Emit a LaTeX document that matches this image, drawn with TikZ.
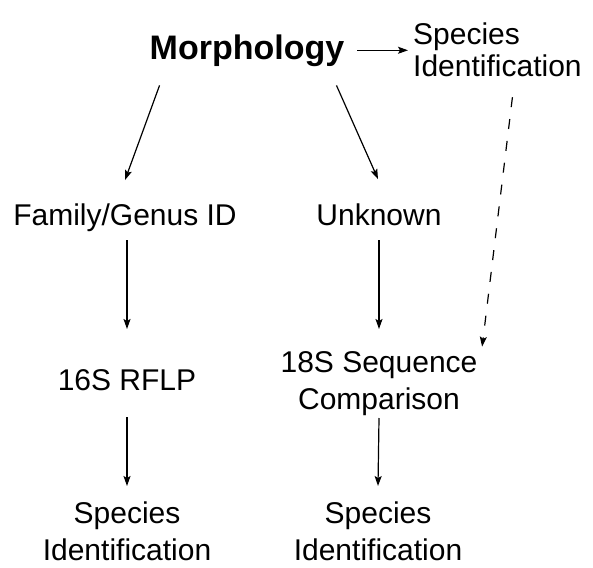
\documentclass[tikz,border=0pt]{standalone}
\usepackage{fontspec}
\setmainfont{Liberation Sans}
\usetikzlibrary{arrows.meta,calc}
\tikzset{
  lbl/.style={inner sep=0pt, font=\fontsize{30}{37}\selectfont, align=center},
  arr/.style={line width=1.2pt, -{Stealth[length=10pt,width=7pt,inset=2pt]}},
  dasharr/.style={arr, dash pattern=on 10pt off 12pt}
}
\begin{document}
\begin{tikzpicture}[x=1pt,y=-1pt]
\useasboundingbox (0,0) rectangle (593,567);
\node[lbl, font=\fontsize{34}{40}\bfseries\selectfont, anchor=base] (morph) at (247,60) {Morphology};
\node[lbl, font=\fontsize{30}{32}\selectfont, align=left, anchor=west] (topsp) at (413,50) {Species\\Identification};
\node[lbl, anchor=base] (fam) at (125,225) {Family/Genus ID};
\node[lbl, anchor=base] (unk) at (379,225) {Unknown};
\node[lbl, anchor=base] (rflp) at (127,390) {16S RFLP};
\node[lbl] (seq) at (379,384) {18S Sequence\\Comparison};
\node[lbl] (sp1) at (127,531) {Species\\Identification};
\node[lbl] (sp2) at (378,531) {Species\\Identification};

\coordinate (a1) at ($(morph.east)+(13,-1)$);
\draw[arr, shorten >=5pt] (a1) -- (a1 -| topsp.west);
\draw[arr] ($(morph.south west)+(10,18)$) -- ($(fam.north)+(0,-23)$);
\draw[arr] ($(morph.south east)+(-8,18)$) -- ($(unk.north)+(-1,-24)$);
\draw[arr] (rflp.north |- 0,240) -- (rflp.north |- 0,329);
\draw[arr] (seq.north |- 0,240) -- (seq.north |- 0,329);
\draw[arr] (rflp.south |- 0,417) -- (sp1.north |- 0,486);
\draw[arr] (seq.south |- 0,418) -- (sp2.north |- 0,486);
\draw[dasharr] ($(topsp.south)+(15,20)$) -- ($(seq.north east)+(4.5,-5)$);
\end{tikzpicture}
\end{document}
